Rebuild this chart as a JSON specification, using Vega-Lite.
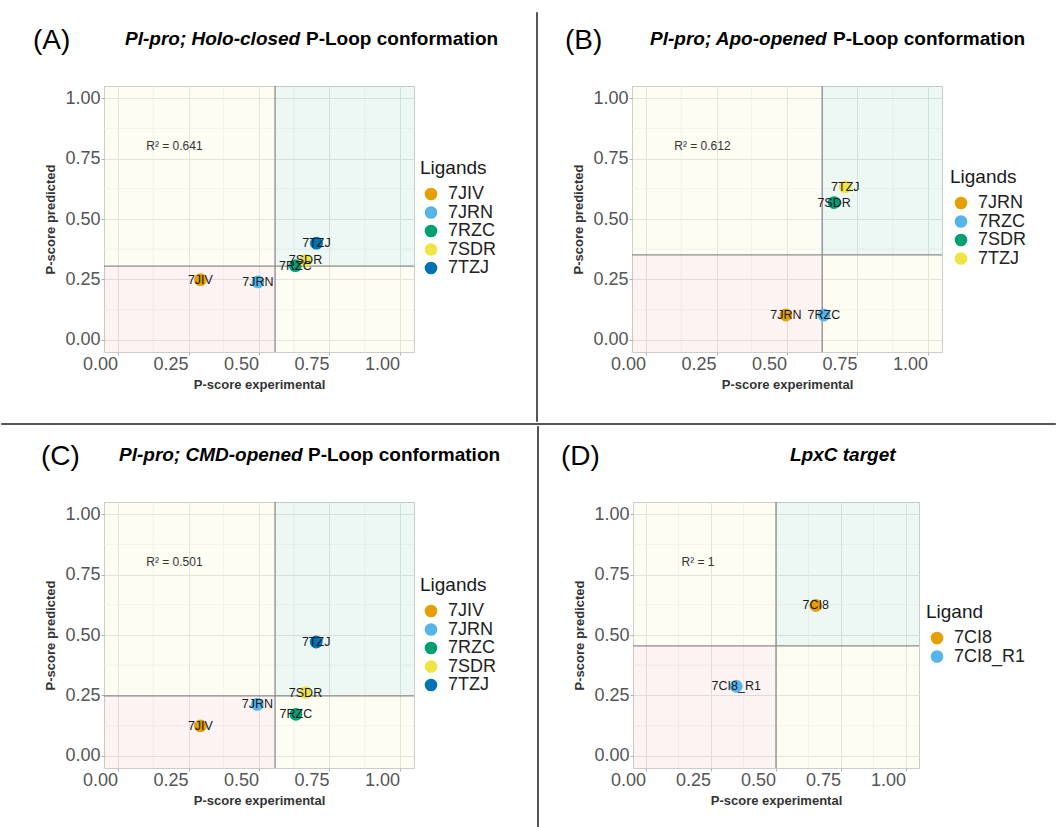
{
  "$schema": "https://vega.github.io/schema/vega-lite/v6.json",
  "background": "white",
  "padding": {"top": 11, "left": 0, "right": 0, "bottom": 0},
  "autosize": {"type": "pad"},
  "config": {
    "font": "Liberation Sans",
    "view": {"stroke": "#cccccc", "strokeWidth": 1},
    "axis": {
      "labelFont": "Liberation Sans", "labelFontSize": 18, "labelColor": "#555555",
      "titleFont": "Liberation Sans", "titleFontSize": 13, "titleFontWeight": "bold", "titleColor": "#333333",
      "tickSize": 3, "tickColor": "#b0b0b0", "domain": false,
      "gridColor": "#e4e4e4", "gridWidth": 1, "labelFlush": false
    },
    "legend": {
      "titleFont": "Liberation Sans", "titleFontSize": 19, "titleFontWeight": "normal", "titleColor": "#1a1a1a",
      "labelFont": "Liberation Sans", "labelFontSize": 18, "labelColor": "#222222",
      "symbolType": "circle", "symbolSize": 160, "symbolStrokeWidth": 0, "symbolOpacity": 1,
      "rowPadding": 0.5, "titlePadding": 7, "labelOffset": 8, "symbolOffset": 2, "padding": 0
    },
    "title": {"font": "Liberation Sans", "color": "#000000"}
  },
  "datasets": {
    "minor": [{"v": 0.125}, {"v": 0.375}, {"v": 0.625}, {"v": 0.875}],
    "none": [],
    "ptsA": [
      {"ligand": "7JIV", "x": 0.292, "y": 0.249},
      {"ligand": "7JRN", "x": 0.496, "y": 0.240},
      {"ligand": "7RZC", "x": 0.629, "y": 0.307},
      {"ligand": "7SDR", "x": 0.665, "y": 0.329},
      {"ligand": "7TZJ", "x": 0.704, "y": 0.400}
    ],
    "thrA": [{"tx": 0.557, "ty": 0.305}],
    "quadA": [
      {"q": "ll", "x1": -0.05, "x2": 0.557, "y1": -0.05, "y2": 0.305},
      {"q": "ur", "x1": 0.557, "x2": 1.05, "y1": 0.305, "y2": 1.05},
      {"q": "off", "x1": -0.05, "x2": 0.557, "y1": 0.305, "y2": 1.05},
      {"q": "off", "x1": 0.557, "x2": 1.05, "y1": -0.05, "y2": 0.305}
    ],
    "r2A": [{"x": 0.2, "y": 0.8, "label": "R² = 0.641"}],
    "ptsB": [
      {"ligand": "7JRN", "x": 0.496, "y": 0.103},
      {"ligand": "7RZC", "x": 0.631, "y": 0.103},
      {"ligand": "7SDR", "x": 0.667, "y": 0.568},
      {"ligand": "7TZJ", "x": 0.707, "y": 0.633}
    ],
    "thrB": [{"tx": 0.625, "ty": 0.352}],
    "quadB": [
      {"q": "ll", "x1": -0.05, "x2": 0.625, "y1": -0.05, "y2": 0.352},
      {"q": "ur", "x1": 0.625, "x2": 1.05, "y1": 0.352, "y2": 1.05},
      {"q": "off", "x1": -0.05, "x2": 0.625, "y1": 0.352, "y2": 1.05},
      {"q": "off", "x1": 0.625, "x2": 1.05, "y1": -0.05, "y2": 0.352}
    ],
    "r2B": [{"x": 0.2, "y": 0.8, "label": "R² = 0.612"}],
    "ptsC": [
      {"ligand": "7JIV", "x": 0.292, "y": 0.124},
      {"ligand": "7JRN", "x": 0.494, "y": 0.213},
      {"ligand": "7RZC", "x": 0.631, "y": 0.172},
      {"ligand": "7SDR", "x": 0.665, "y": 0.262},
      {"ligand": "7TZJ", "x": 0.703, "y": 0.471}
    ],
    "thrC": [{"tx": 0.557, "ty": 0.248}],
    "quadC": [
      {"q": "ll", "x1": -0.05, "x2": 0.557, "y1": -0.05, "y2": 0.248},
      {"q": "ur", "x1": 0.557, "x2": 1.05, "y1": 0.248, "y2": 1.05},
      {"q": "off", "x1": -0.05, "x2": 0.557, "y1": 0.248, "y2": 1.05},
      {"q": "off", "x1": 0.557, "x2": 1.05, "y1": -0.05, "y2": 0.248}
    ],
    "r2C": [{"x": 0.2, "y": 0.8, "label": "R² = 0.501"}],
    "ptsD": [
      {"ligand": "7CI8", "x": 0.653, "y": 0.622},
      {"ligand": "7CI8_R1", "x": 0.347, "y": 0.288}
    ],
    "thrD": [{"tx": 0.5, "ty": 0.455}],
    "quadD": [
      {"q": "ll", "x1": -0.05, "x2": 0.5, "y1": -0.05, "y2": 0.455},
      {"q": "ur", "x1": 0.5, "x2": 1.05, "y1": 0.455, "y2": 1.05},
      {"q": "off", "x1": -0.05, "x2": 0.5, "y1": 0.455, "y2": 1.05},
      {"q": "off", "x1": 0.5, "x2": 1.05, "y1": -0.05, "y2": 0.455}
    ],
    "r2D": [{"x": 0.2, "y": 0.8, "label": "R² = 1"}]
  },
  "spacing": 0,
  "resolve": {"scale": {"color": "independent", "fill": "independent"}, "legend": {"color": "independent"}},
  "vconcat": [
    {
      "spacing": 0,
      "resolve": {"scale": {"color": "independent", "fill": "independent"}, "legend": {"color": "independent"}},
      "hconcat": [
        {"width": 32, "height": 1, "data": {"name": "none"}, "mark": "point", "encoding": {}, "view": {"stroke": null}},
        {
          "spacing": 29,
          "resolve": {"scale": {"color": "independent", "fill": "independent"}, "legend": {"color": "independent"}},
          "vconcat": [
            {
              "spacing": 5,
              "hconcat": [
                {"width": 16, "height": 1, "data": {"name": "none"}, "mark": "point", "encoding": {}, "view": {"stroke": null},
                 "title": {"text": "(A)", "orient": "bottom", "anchor": "start", "offset": 14, "dx": -71, "fontSize": 28, "fontWeight": "normal"}},
                {"width": 1, "height": 1, "data": {"name": "none"}, "mark": "point", "encoding": {}, "view": {"stroke": null},
                 "title": {"text": "Pl-pro; Holo-closed", "orient": "bottom", "anchor": "start", "offset": 17, "fontSize": 19, "fontWeight": "bold", "fontStyle": "italic"}},
                {"width": 1, "height": 1, "data": {"name": "none"}, "mark": "point", "encoding": {}, "view": {"stroke": null},
                 "title": {"text": "P-Loop conformation", "orient": "bottom", "anchor": "start", "offset": 17, "fontSize": 19, "fontWeight": "bold"}}
              ]
            },
            {
              "width": 310, "height": 266,
              "layer": [
                {"data": {"name": "minor"}, "mark": {"type": "rule", "color": "#efefef", "strokeWidth": 0.7},
                 "encoding": {"x": {"field": "v", "type": "quantitative", "scale": {"domain": [-0.05, 1.05], "nice": false, "zero": false}}}},
                {"data": {"name": "minor"}, "mark": {"type": "rule", "color": "#efefef", "strokeWidth": 0.7},
                 "encoding": {"y": {"field": "v", "type": "quantitative", "scale": {"domain": [-0.05, 1.05], "nice": false, "zero": false}}}},
                {"data": {"name": "quadA"}, "mark": {"type": "rect", "opacity": 0.08},
                 "encoding": {
                   "x": {"field": "x1", "type": "quantitative", "scale": {"domain": [-0.05, 1.05], "nice": false, "zero": false}},
                   "x2": {"field": "x2"},
                   "y": {"field": "y1", "type": "quantitative", "scale": {"domain": [-0.05, 1.05], "nice": false, "zero": false}},
                   "y2": {"field": "y2"},
                   "fill": {"field": "q", "type": "nominal", "scale": {"domain": ["ll", "ur", "off"], "range": ["#E06666", "#1FA37A", "#EAEA60"]}, "legend": null}}},
                {"data": {"name": "thrA"}, "mark": {"type": "rule", "color": "#8c8c8c", "strokeWidth": 1.3},
                 "encoding": {"x": {"field": "tx", "type": "quantitative", "scale": {"domain": [-0.05, 1.05], "nice": false, "zero": false}}}},
                {"data": {"name": "thrA"}, "mark": {"type": "rule", "color": "#8c8c8c", "strokeWidth": 1.3},
                 "encoding": {"y": {"field": "ty", "type": "quantitative", "scale": {"domain": [-0.05, 1.05], "nice": false, "zero": false}}}},
                {"data": {"name": "ptsA"}, "mark": {"type": "circle", "size": 165, "opacity": 1},
                 "encoding": {
                   "x": {"field": "x", "type": "quantitative", "scale": {"domain": [-0.05, 1.05], "nice": false, "zero": false},
                         "axis": {"values": [0, 0.25, 0.5, 0.75, 1], "format": ".2f", "title": "P-score experimental", "labelOffset": -18, "labelPadding": 0, "titlePadding": 5}},
                   "y": {"field": "y", "type": "quantitative", "scale": {"domain": [-0.05, 1.05], "nice": false, "zero": false},
                         "axis": {"values": [0, 0.25, 0.5, 0.75, 1], "format": ".2f", "title": "P-score predicted", "labelPadding": 1, "titlePadding": 7}},
                   "color": {"field": "ligand", "type": "nominal",
                             "scale": {"domain": ["7JIV", "7JRN", "7RZC", "7SDR", "7TZJ"], "range": ["#E69F00", "#56B4E9", "#009E73", "#F0E442", "#0072B2"]},
                             "legend": {"title": "Ligands", "orient": "none", "legendX": 316, "legendY": 73}}}},
                {"data": {"name": "ptsA"}, "mark": {"type": "text", "fontSize": 12.5, "color": "#1a1a1a", "font": "Liberation Sans"},
                 "encoding": {
                   "x": {"field": "x", "type": "quantitative", "scale": {"domain": [-0.05, 1.05], "nice": false, "zero": false}},
                   "y": {"field": "y", "type": "quantitative", "scale": {"domain": [-0.05, 1.05], "nice": false, "zero": false}},
                   "text": {"field": "ligand"}}},
                {"data": {"name": "r2A"}, "mark": {"type": "text", "fontSize": 12, "color": "#333333", "font": "Liberation Sans"},
                 "encoding": {
                   "x": {"field": "x", "type": "quantitative", "scale": {"domain": [-0.05, 1.05], "nice": false, "zero": false}},
                   "y": {"field": "y", "type": "quantitative", "scale": {"domain": [-0.05, 1.05], "nice": false, "zero": false}},
                   "text": {"field": "label"}}}
              ]
            }
          ]
        },
        {"width": 36, "height": 1, "data": {"name": "none"}, "mark": "point", "encoding": {}, "view": {"stroke": null}},
        {"width": 1, "height": 409, "data": {"name": "none"}, "mark": "point", "encoding": {}, "view": {"stroke": "#555555", "strokeWidth": 1, "fill": "#555555"}},
        {"width": 27, "height": 1, "data": {"name": "none"}, "mark": "point", "encoding": {}, "view": {"stroke": null}},
        {
          "spacing": 29,
          "resolve": {"scale": {"color": "independent", "fill": "independent"}, "legend": {"color": "independent"}},
          "vconcat": [
            {
              "spacing": 5,
              "hconcat": [
                {"width": 13, "height": 1, "data": {"name": "none"}, "mark": "point", "encoding": {}, "view": {"stroke": null},
                 "title": {"text": "(B)", "orient": "bottom", "anchor": "start", "offset": 14, "dx": -67, "fontSize": 28, "fontWeight": "normal"}},
                {"width": 1, "height": 1, "data": {"name": "none"}, "mark": "point", "encoding": {}, "view": {"stroke": null},
                 "title": {"text": "Pl-pro; Apo-opened", "orient": "bottom", "anchor": "start", "offset": 17, "fontSize": 19, "fontWeight": "bold", "fontStyle": "italic"}},
                {"width": 1, "height": 1, "data": {"name": "none"}, "mark": "point", "encoding": {}, "view": {"stroke": null},
                 "title": {"text": "P-Loop conformation", "orient": "bottom", "anchor": "start", "offset": 17, "fontSize": 19, "fontWeight": "bold"}}
              ]
            },
            {
              "width": 310, "height": 266,
              "layer": [
                {"data": {"name": "minor"}, "mark": {"type": "rule", "color": "#efefef", "strokeWidth": 0.7},
                 "encoding": {"x": {"field": "v", "type": "quantitative", "scale": {"domain": [-0.05, 1.05], "nice": false, "zero": false}}}},
                {"data": {"name": "minor"}, "mark": {"type": "rule", "color": "#efefef", "strokeWidth": 0.7},
                 "encoding": {"y": {"field": "v", "type": "quantitative", "scale": {"domain": [-0.05, 1.05], "nice": false, "zero": false}}}},
                {"data": {"name": "quadB"}, "mark": {"type": "rect", "opacity": 0.08},
                 "encoding": {
                   "x": {"field": "x1", "type": "quantitative", "scale": {"domain": [-0.05, 1.05], "nice": false, "zero": false}},
                   "x2": {"field": "x2"},
                   "y": {"field": "y1", "type": "quantitative", "scale": {"domain": [-0.05, 1.05], "nice": false, "zero": false}},
                   "y2": {"field": "y2"},
                   "fill": {"field": "q", "type": "nominal", "scale": {"domain": ["ll", "ur", "off"], "range": ["#E06666", "#1FA37A", "#EAEA60"]}, "legend": null}}},
                {"data": {"name": "thrB"}, "mark": {"type": "rule", "color": "#8c8c8c", "strokeWidth": 1.3},
                 "encoding": {"x": {"field": "tx", "type": "quantitative", "scale": {"domain": [-0.05, 1.05], "nice": false, "zero": false}}}},
                {"data": {"name": "thrB"}, "mark": {"type": "rule", "color": "#8c8c8c", "strokeWidth": 1.3},
                 "encoding": {"y": {"field": "ty", "type": "quantitative", "scale": {"domain": [-0.05, 1.05], "nice": false, "zero": false}}}},
                {"data": {"name": "ptsB"}, "mark": {"type": "circle", "size": 165, "opacity": 1},
                 "encoding": {
                   "x": {"field": "x", "type": "quantitative", "scale": {"domain": [-0.05, 1.05], "nice": false, "zero": false},
                         "axis": {"values": [0, 0.25, 0.5, 0.75, 1], "format": ".2f", "title": "P-score experimental", "labelOffset": -18, "labelPadding": 0, "titlePadding": 5}},
                   "y": {"field": "y", "type": "quantitative", "scale": {"domain": [-0.05, 1.05], "nice": false, "zero": false},
                         "axis": {"values": [0, 0.25, 0.5, 0.75, 1], "format": ".2f", "title": "P-score predicted", "labelPadding": 1, "titlePadding": 7}},
                   "color": {"field": "ligand", "type": "nominal",
                             "scale": {"domain": ["7JRN", "7RZC", "7SDR", "7TZJ"], "range": ["#E69F00", "#56B4E9", "#009E73", "#F0E442"]},
                             "legend": {"title": "Ligands", "orient": "none", "legendX": 318, "legendY": 82}}}},
                {"data": {"name": "ptsB"}, "mark": {"type": "text", "fontSize": 12.5, "color": "#1a1a1a", "font": "Liberation Sans"},
                 "encoding": {
                   "x": {"field": "x", "type": "quantitative", "scale": {"domain": [-0.05, 1.05], "nice": false, "zero": false}},
                   "y": {"field": "y", "type": "quantitative", "scale": {"domain": [-0.05, 1.05], "nice": false, "zero": false}},
                   "text": {"field": "ligand"}}},
                {"data": {"name": "r2B"}, "mark": {"type": "text", "fontSize": 12, "color": "#333333", "font": "Liberation Sans"},
                 "encoding": {
                   "x": {"field": "x", "type": "quantitative", "scale": {"domain": [-0.05, 1.05], "nice": false, "zero": false}},
                   "y": {"field": "y", "type": "quantitative", "scale": {"domain": [-0.05, 1.05], "nice": false, "zero": false}},
                   "text": {"field": "label"}}}
              ]
            }
          ]
        }
      ]
    },
    {"width": 1054, "height": 1, "data": {"name": "none"}, "mark": "point", "encoding": {}, "view": {"stroke": "#555555", "strokeWidth": 1, "fill": "#555555"}},
    {
      "spacing": 0,
      "resolve": {"scale": {"color": "independent", "fill": "independent"}, "legend": {"color": "independent"}},
      "hconcat": [
        {"width": 40, "height": 1, "data": {"name": "none"}, "mark": "point", "encoding": {}, "view": {"stroke": null}},
        {
          "spacing": 29,
          "resolve": {"scale": {"color": "independent", "fill": "independent"}, "legend": {"color": "independent"}},
          "vconcat": [
            {
              "spacing": 5,
              "hconcat": [
                {"width": 10, "height": 1, "data": {"name": "none"}, "mark": "point", "encoding": {}, "view": {"stroke": null},
                 "title": {"text": "(C)", "orient": "bottom", "anchor": "start", "offset": 16, "dx": -63, "fontSize": 28, "fontWeight": "normal"}},
                {"width": 1, "height": 1, "data": {"name": "none"}, "mark": "point", "encoding": {}, "view": {"stroke": null},
                 "title": {"text": "Pl-pro; CMD-opened", "orient": "bottom", "anchor": "start", "offset": 19, "fontSize": 19, "fontWeight": "bold", "fontStyle": "italic"}},
                {"width": 1, "height": 1, "data": {"name": "none"}, "mark": "point", "encoding": {}, "view": {"stroke": null},
                 "title": {"text": "P-Loop conformation", "orient": "bottom", "anchor": "start", "offset": 19, "fontSize": 19, "fontWeight": "bold"}}
              ]
            },
            {
              "width": 310, "height": 266,
              "layer": [
                {"data": {"name": "minor"}, "mark": {"type": "rule", "color": "#efefef", "strokeWidth": 0.7},
                 "encoding": {"x": {"field": "v", "type": "quantitative", "scale": {"domain": [-0.05, 1.05], "nice": false, "zero": false}}}},
                {"data": {"name": "minor"}, "mark": {"type": "rule", "color": "#efefef", "strokeWidth": 0.7},
                 "encoding": {"y": {"field": "v", "type": "quantitative", "scale": {"domain": [-0.05, 1.05], "nice": false, "zero": false}}}},
                {"data": {"name": "quadC"}, "mark": {"type": "rect", "opacity": 0.08},
                 "encoding": {
                   "x": {"field": "x1", "type": "quantitative", "scale": {"domain": [-0.05, 1.05], "nice": false, "zero": false}},
                   "x2": {"field": "x2"},
                   "y": {"field": "y1", "type": "quantitative", "scale": {"domain": [-0.05, 1.05], "nice": false, "zero": false}},
                   "y2": {"field": "y2"},
                   "fill": {"field": "q", "type": "nominal", "scale": {"domain": ["ll", "ur", "off"], "range": ["#E06666", "#1FA37A", "#EAEA60"]}, "legend": null}}},
                {"data": {"name": "thrC"}, "mark": {"type": "rule", "color": "#8c8c8c", "strokeWidth": 1.3},
                 "encoding": {"x": {"field": "tx", "type": "quantitative", "scale": {"domain": [-0.05, 1.05], "nice": false, "zero": false}}}},
                {"data": {"name": "thrC"}, "mark": {"type": "rule", "color": "#8c8c8c", "strokeWidth": 1.3},
                 "encoding": {"y": {"field": "ty", "type": "quantitative", "scale": {"domain": [-0.05, 1.05], "nice": false, "zero": false}}}},
                {"data": {"name": "ptsC"}, "mark": {"type": "circle", "size": 165, "opacity": 1},
                 "encoding": {
                   "x": {"field": "x", "type": "quantitative", "scale": {"domain": [-0.05, 1.05], "nice": false, "zero": false},
                         "axis": {"values": [0, 0.25, 0.5, 0.75, 1], "format": ".2f", "title": "P-score experimental", "labelOffset": -18, "labelPadding": 0, "titlePadding": 5}},
                   "y": {"field": "y", "type": "quantitative", "scale": {"domain": [-0.05, 1.05], "nice": false, "zero": false},
                         "axis": {"values": [0, 0.25, 0.5, 0.75, 1], "format": ".2f", "title": "P-score predicted", "labelPadding": 1, "titlePadding": 7}},
                   "color": {"field": "ligand", "type": "nominal",
                             "scale": {"domain": ["7JIV", "7JRN", "7RZC", "7SDR", "7TZJ"], "range": ["#E69F00", "#56B4E9", "#009E73", "#F0E442", "#0072B2"]},
                             "legend": {"title": "Ligands", "orient": "none", "legendX": 316, "legendY": 74}}}},
                {"data": {"name": "ptsC"}, "mark": {"type": "text", "fontSize": 12.5, "color": "#1a1a1a", "font": "Liberation Sans"},
                 "encoding": {
                   "x": {"field": "x", "type": "quantitative", "scale": {"domain": [-0.05, 1.05], "nice": false, "zero": false}},
                   "y": {"field": "y", "type": "quantitative", "scale": {"domain": [-0.05, 1.05], "nice": false, "zero": false}},
                   "text": {"field": "ligand"}}},
                {"data": {"name": "r2C"}, "mark": {"type": "text", "fontSize": 12, "color": "#333333", "font": "Liberation Sans"},
                 "encoding": {
                   "x": {"field": "x", "type": "quantitative", "scale": {"domain": [-0.05, 1.05], "nice": false, "zero": false}},
                   "y": {"field": "y", "type": "quantitative", "scale": {"domain": [-0.05, 1.05], "nice": false, "zero": false}},
                   "text": {"field": "label"}}}
              ]
            }
          ]
        },
        {"width": 35, "height": 1, "data": {"name": "none"}, "mark": "point", "encoding": {}, "view": {"stroke": null}},
        {"width": 1, "height": 401, "data": {"name": "none"}, "mark": "point", "encoding": {}, "view": {"stroke": "#555555", "strokeWidth": 1, "fill": "#555555"}},
        {"width": 22, "height": 1, "data": {"name": "none"}, "mark": "point", "encoding": {}, "view": {"stroke": null}},
        {
          "spacing": 29,
          "resolve": {"scale": {"color": "independent", "fill": "independent"}, "legend": {"color": "independent"}},
          "vconcat": [
            {
              "spacing": 5,
              "hconcat": [
                {"width": 152, "height": 1, "data": {"name": "none"}, "mark": "point", "encoding": {}, "view": {"stroke": null},
                 "title": {"text": "(D)", "orient": "bottom", "anchor": "start", "offset": 16, "dx": -72, "fontSize": 28, "fontWeight": "normal"}},
                {"width": 1, "height": 1, "data": {"name": "none"}, "mark": "point", "encoding": {}, "view": {"stroke": null},
                 "title": {"text": "LpxC target", "orient": "bottom", "anchor": "start", "offset": 19, "fontSize": 19, "fontWeight": "bold", "fontStyle": "italic"}}
              ]
            },
            {
              "width": 286, "height": 266,
              "layer": [
                {"data": {"name": "minor"}, "mark": {"type": "rule", "color": "#efefef", "strokeWidth": 0.7},
                 "encoding": {"x": {"field": "v", "type": "quantitative", "scale": {"domain": [-0.05, 1.05], "nice": false, "zero": false}}}},
                {"data": {"name": "minor"}, "mark": {"type": "rule", "color": "#efefef", "strokeWidth": 0.7},
                 "encoding": {"y": {"field": "v", "type": "quantitative", "scale": {"domain": [-0.05, 1.05], "nice": false, "zero": false}}}},
                {"data": {"name": "quadD"}, "mark": {"type": "rect", "opacity": 0.08},
                 "encoding": {
                   "x": {"field": "x1", "type": "quantitative", "scale": {"domain": [-0.05, 1.05], "nice": false, "zero": false}},
                   "x2": {"field": "x2"},
                   "y": {"field": "y1", "type": "quantitative", "scale": {"domain": [-0.05, 1.05], "nice": false, "zero": false}},
                   "y2": {"field": "y2"},
                   "fill": {"field": "q", "type": "nominal", "scale": {"domain": ["ll", "ur", "off"], "range": ["#E06666", "#1FA37A", "#EAEA60"]}, "legend": null}}},
                {"data": {"name": "thrD"}, "mark": {"type": "rule", "color": "#8c8c8c", "strokeWidth": 1.3},
                 "encoding": {"x": {"field": "tx", "type": "quantitative", "scale": {"domain": [-0.05, 1.05], "nice": false, "zero": false}}}},
                {"data": {"name": "thrD"}, "mark": {"type": "rule", "color": "#8c8c8c", "strokeWidth": 1.3},
                 "encoding": {"y": {"field": "ty", "type": "quantitative", "scale": {"domain": [-0.05, 1.05], "nice": false, "zero": false}}}},
                {"data": {"name": "ptsD"}, "mark": {"type": "circle", "size": 165, "opacity": 1},
                 "encoding": {
                   "x": {"field": "x", "type": "quantitative", "scale": {"domain": [-0.05, 1.05], "nice": false, "zero": false},
                         "axis": {"values": [0, 0.25, 0.5, 0.75, 1], "format": ".2f", "title": "P-score experimental", "labelOffset": -18, "labelPadding": 0, "titlePadding": 5}},
                   "y": {"field": "y", "type": "quantitative", "scale": {"domain": [-0.05, 1.05], "nice": false, "zero": false},
                         "axis": {"values": [0, 0.25, 0.5, 0.75, 1], "format": ".2f", "title": "P-score predicted", "labelPadding": 1, "titlePadding": 7}},
                   "color": {"field": "ligand", "type": "nominal",
                             "scale": {"domain": ["7CI8", "7CI8_R1"], "range": ["#E69F00", "#56B4E9"]},
                             "legend": {"title": "Ligand", "orient": "none", "legendX": 293, "legendY": 101}}}},
                {"data": {"name": "ptsD"}, "mark": {"type": "text", "fontSize": 12.5, "color": "#1a1a1a", "font": "Liberation Sans"},
                 "encoding": {
                   "x": {"field": "x", "type": "quantitative", "scale": {"domain": [-0.05, 1.05], "nice": false, "zero": false}},
                   "y": {"field": "y", "type": "quantitative", "scale": {"domain": [-0.05, 1.05], "nice": false, "zero": false}},
                   "text": {"field": "ligand"}}},
                {"data": {"name": "r2D"}, "mark": {"type": "text", "fontSize": 12, "color": "#333333", "font": "Liberation Sans"},
                 "encoding": {
                   "x": {"field": "x", "type": "quantitative", "scale": {"domain": [-0.05, 1.05], "nice": false, "zero": false}},
                   "y": {"field": "y", "type": "quantitative", "scale": {"domain": [-0.05, 1.05], "nice": false, "zero": false}},
                   "text": {"field": "label"}}}
              ]
            }
          ]
        }
      ]
    }
  ]
}
